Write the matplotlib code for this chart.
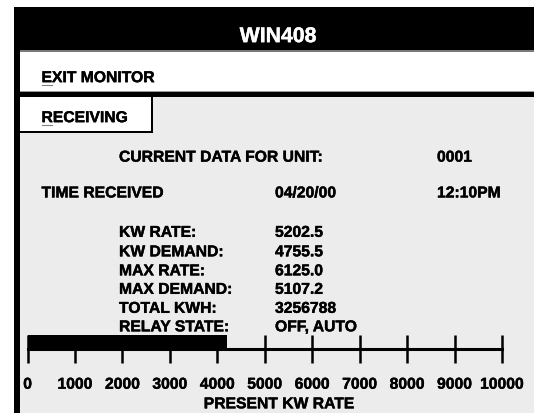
import matplotlib.pyplot as plt
import matplotlib.patheffects as pe
from matplotlib.patches import Rectangle

plt.rcParams['font.family'] = ['Liberation Sans', 'DejaVu Sans']
plt.rcParams['font.weight'] = 'bold'

# screen data
title = 'WIN408'
menu_item = 'EXIT MONITOR'
tab_name = 'RECEIVING'
unit_id = '0001'
recv_date = '04/20/00'
recv_time = '12:10PM'
field_labels = ['KW RATE:', 'KW DEMAND:', 'MAX RATE:', 'MAX DEMAND:', 'TOTAL KWH:', 'RELAY STATE:']
field_values = ['5202.5', '4755.5', '6125.0', '5107.2', '3256788', 'OFF, AUTO']
gauge_ticks = [0, 1000, 2000, 3000, 4000, 5000, 6000, 7000, 8000, 9000, 10000]
present_kw = 4200

W, H = 534, 414
GRAY = '#ececec'
fs = 11.3

fig = plt.figure(figsize=(W / 100, H / 100), dpi=100)
bg = fig.add_axes([0, 0, 1, 1])
bg.set_xlim(0, W)
bg.set_ylim(H, 0)
bg.axis('off')

def box(x0, y0, x1, y1, color):
    bg.add_patch(Rectangle((x0, y0), x1 - x0, y1 - y0, color=color, lw=0))

# frame pieces
box(14, 8, W, 51, 'black')
box(14, 51, W, 53, '#7a7a7a')
box(14, 51, 20, H, 'black')
box(20, 91.5, W, 93, '#9a9a9a')
box(14, 93, W, 98, 'black')
box(20, 98, W, H, GRAY)
box(20, 98, 153, 134, 'black')
box(20, 98, 151, 131.5, 'white')

def thick(color):
    return [pe.withStroke(linewidth=0.3, foreground=color)]

def txt(x, yc, s, color='black', size=fs, **kw):
    # yc is the middle of the capitals
    cap = size * 100 / 72 * 0.716
    bg.text(x, yc + cap / 2, s, fontsize=size, fontweight='bold', va='baseline',
            color=color, path_effects=thick(color), **kw)

txt(278, 35.5, title, color='white', size=15.3, ha='center')
txt(41.5, 77.5, menu_item)
txt(41.5, 117.5, tab_name)
# underlined hot keys
bg.plot([41.5, 51.5], [86, 86], color='#808080', lw=0.8)
bg.plot([41.5, 52], [126, 126], color='#808080', lw=0.8)

txt(119, 157, 'CURRENT DATA FOR UNIT:')
txt(437, 157, unit_id)
txt(41.5, 192.8, 'TIME RECEIVED')
txt(275, 192.8, recv_date)
txt(437, 192.8, recv_time)

rows_y = [232.2, 251.7, 270.7, 289.2, 308.2, 326.7]
for lab, val, y in zip(field_labels, field_values, rows_y):
    txt(119, y, lab)
    txt(275, y, val)

txt(279, 403.7, 'PRESENT KW RATE', ha='center')

# gauge
ax = fig.add_axes([27.6 / W, (H - 349.5) / H, 474.4 / W, 13.5 / H])
ax.set_xlim(0, 10000)
ax.set_ylim(0, 1)
ax.set_facecolor('none')
ax.barh([0.5], [present_kw], height=1, color='black')
for s in ['top', 'left', 'right']:
    ax.spines[s].set_visible(False)
ax.spines['bottom'].set_linewidth(2.2)
ax.spines['bottom'].set_bounds(0, 10000)
ax.set_yticks([])
ax.set_xticks(gauge_ticks)
ax.set_xticklabels([str(t) for t in gauge_ticks], fontsize=fs, fontweight='bold')
for lbl in ax.get_xticklabels():
    lbl.set_path_effects(thick('black'))
ax.tick_params(axis='x', direction='inout', length=20.2, width=1.8, pad=10.2)

fig.savefig('out.png', dpi=100)
